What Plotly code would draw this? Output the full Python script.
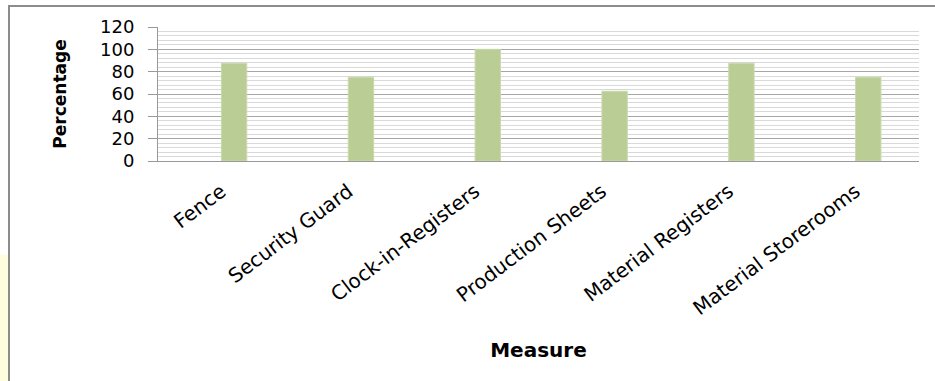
import plotly.graph_objects as go

categories = ["Fence", "Security Guard", "Clock-in-Registers", "Production Sheets",
              "Material Registers", "Material Storerooms"]
percentages = [87.5, 75, 100, 62.5, 87.5, 75]
y_ticks = [0, 20, 40, 60, 80, 100, 120]

W, H = 935, 381
L, R, T, B = 158, 16, 27, 220
pw, ph = W - L - R, H - T - B

def px(x):
    return (x - L) / pw

def py(y):
    return (H - B - y) / ph

fig = go.Figure()
fig.add_trace(go.Bar(
    x=categories, y=percentages,
    marker=dict(color="#BACD95", line=dict(color="#C9D9AC", width=1)),
    width=0.2, offset=0.0,
))

font = "DejaVu Sans, Liberation Sans, Arial, sans-serif"
fig.update_layout(
    width=W, height=H,
    margin=dict(l=L, r=R, t=T, b=B, autoexpand=False),
    paper_bgcolor="white", plot_bgcolor="white",
    showlegend=False,
    font=dict(family=font, color="black"),
    xaxis=dict(
        type="category",
        showgrid=False, showline=True, linecolor="#999999", linewidth=1,
        ticks="", tickangle=-37, tickfont=dict(size=20, family=font),
        ticklabelstandoff=10,
        title=dict(text="<b>Measure</b>", font=dict(size=20, family=font), standoff=24),
        automargin=False,
    ),
    yaxis=dict(
        range=[0, 120], tickvals=y_ticks, ticktext=[str(v) for v in y_ticks],
        showgrid=True, gridcolor="#a6a6a6", gridwidth=1,
        minor=dict(dtick=4, showgrid=True, gridcolor="#d9d9d9", gridwidth=1, ticks=""),
        showline=True, linecolor="#999999", linewidth=1,
        ticks="outside", ticklen=9, tickcolor="#999999",
        tickfont=dict(size=18, family=font), ticklabelstandoff=10,
        title=dict(text="<b>Percentage</b>", font=dict(size=17, family=font), standoff=29),
        automargin=False, zeroline=False,
    ),
    shapes=[
        dict(type="rect", xref="paper", yref="paper",
             x0=px(0), x1=px(8), y0=py(255), y1=py(400),
             fillcolor="#FFFDDD", line=dict(width=0), layer="below"),
        dict(type="rect", xref="paper", yref="paper",
             x0=px(9), x1=px(945), y0=py(6), y1=py(400),
             fillcolor="rgba(0,0,0,0)", line=dict(color="#8c8c8c", width=2)),
    ],
)

fig.write_html("out.html")
